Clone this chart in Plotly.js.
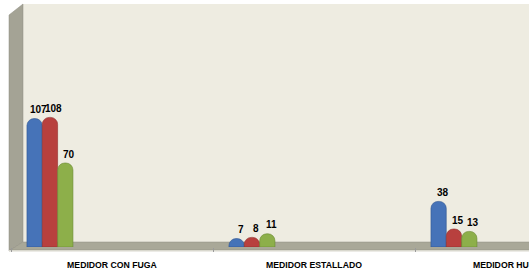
<!DOCTYPE html>
<html>
<head>
<meta charset="utf-8">
<script src="https://cdn.plot.ly/plotly-3.0.1.min.js"></script>
<style>
html,body{margin:0;padding:0;overflow:hidden;background:#fff;}
#chart{width:529px;height:271px;}
</style>
</head>
<body>
<div id="chart"></div>
<script>
var categories = ['MEDIDOR CON FUGA', 'MEDIDOR ESTALLADO', 'MEDIDOR HURTADO'];
var serie1 = [107, 7, 38];
var serie2 = [108, 8, 15];
var serie3 = [70, 11, 13];
var seriesNames = ['Serie1', 'Serie2', 'Serie3'];

var colors = ['#4673B8', '#B8403E', '#8DAF4A'];
var lineColors = ['#2F5690', '#8E2D2B', '#6A8A33'];
var barW = 0.0757;
var offsets = [-0.421, -0.345, -0.269];
var allSeries = [serie1, serie2, serie3];

var W = 529, H = 271, mL = 11, mR = 0, mT = 3, mB = 24;
var plotW = W - mL - mR, plotH = H - mT - mB;
function px(x) { return (x - mL) / plotW; }
function py(y) { return (H - mB - y) / plotH; }

var traces = allSeries.map(function (s, k) {
  return {
    type: 'bar',
    name: seriesNames[k],
    x: categories,
    y: s,
    width: barW,
    offset: offsets[k],
    marker: { color: colors[k], cornerradius: 7, line: { color: lineColors[k], width: 0.6 } },
    hoverinfo: 'x+y'
  };
});

var annotations = [];
allSeries.forEach(function (s, k) {
  s.forEach(function (v, i) {
    annotations.push({
      x: i + offsets[k] + barW / 2,
      y: v,
      xref: 'x', yref: 'y',
      text: String(v),
      showarrow: false,
      xshift: 4,
      yshift: 9,
      yanchor: 'middle',
      font: { family: 'Liberation Sans, Arial, sans-serif', size: 10, color: '#000', weight: 'bold' }
    });
  });
});

function poly(pts) {
  return 'M' + pts.map(function (p) { return px(p[0]) + ',' + py(p[1]); }).join(' L') + ' Z';
}

var shapes = [
  // back wall
  { type: 'path', xref: 'paper', yref: 'paper', layer: 'below',
    path: poly([[23, 4], [540, 4], [540, 242], [23, 242]]),
    fillcolor: '#EEECE1', line: { width: 0 } },
  // left wall
  { type: 'path', xref: 'paper', yref: 'paper', layer: 'below',
    path: poly([[9, 15], [23, 4], [23, 242], [9, 251]]),
    fillcolor: '#A4A395', line: { color: '#8E8D80', width: 0.5 } },
  // floor
  { type: 'path', xref: 'paper', yref: 'paper', layer: 'below',
    path: poly([[9, 251], [23, 242], [540, 242], [540, 250], [10, 250]]),
    fillcolor: '#A9A898', line: { color: '#8E8D80', width: 0.5 } },
  // floor front edge
  { type: 'path', xref: 'paper', yref: 'paper', layer: 'below',
    path: poly([[9, 250], [540, 250], [540, 251.5], [9, 251.5]]),
    fillcolor: '#D9D8CE', line: { width: 0 } }
];

var layout = {
  width: W, height: H,
  margin: { l: mL, r: mR, t: mT, b: mB, pad: 0 },
  paper_bgcolor: '#ffffff',
  plot_bgcolor: 'rgba(0,0,0,0)',
  showlegend: false,
  barmode: 'overlay',
  xaxis: {
    type: 'category',
    range: [-0.5, -0.5 + plotW / 202],
    fixedrange: true,
    showgrid: false, zeroline: false, showline: false,
    ticks: 'outside', tickson: 'boundaries', ticklen: 4, tickcolor: '#9A9A9A', tickwidth: 1,
    ticklabelstandoff: 11,
    automargin: false,
    tickfont: { family: 'Liberation Sans, Arial, sans-serif', size: 8.7, color: '#000', weight: 'bold' }
  },
  yaxis: {
    range: [0, plotH / 1.2],
    visible: false, fixedrange: true, showgrid: false, zeroline: false
  },
  shapes: shapes,
  annotations: annotations
};

Plotly.newPlot('chart', traces, layout, { displayModeBar: false, staticPlot: true });
</script>
</body>
</html>
